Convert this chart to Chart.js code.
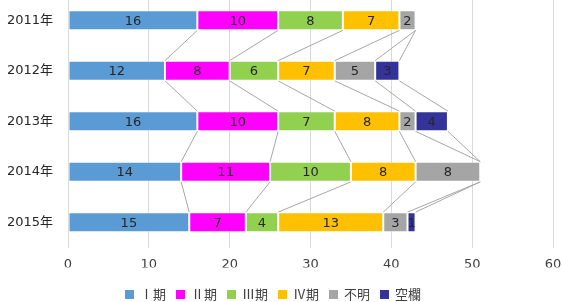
<!DOCTYPE html>
<html>
<head>
<meta charset="utf-8">
<script src="https://cdn.jsdelivr.net/npm/chart.js@4/dist/chart.umd.min.js"></script>
<style>
  html, body { margin: 0; padding: 0; background: #fff; overflow: hidden; }
  #wrap { position: relative; width: 562px; height: 302px; overflow: hidden; }
  #chart { position: absolute; left: 0; top: -5px; }
</style>
</head>
<body>
<div id="wrap"><canvas id="chart" width="562" height="307"></canvas></div>
<script>
const years = ['2011年', '2012年', '2013年', '2014年', '2015年'];
const stage1 = [16, 12, 16, 14, 15];
const stage2 = [10, 8, 10, 11, 7];
const stage3 = [8, 6, 7, 10, 4];
const stage4 = [7, 7, 8, 8, 13];
const unknown = [2, 5, 2, 8, 3];
const blank = [0, 3, 4, 0, 1];
const xTicks = [0, 10, 20, 30, 40, 50, 60];

const fontFamily = '"DejaVu Sans", "Noto Sans CJK JP", sans-serif';
const legendFont = '13px "Noto Sans CJK JP", sans-serif';

// gray connector lines between bars, like Excel series lines
const seriesLines = {
    id: 'seriesLines',
    beforeDatasetsDraw(chart) {
        const ctx = chart.ctx;
        ctx.save();
        ctx.strokeStyle = '#a6a6a6';
        ctx.lineWidth = 1;
        chart.data.datasets.forEach((ds, i) => {
            const bars = chart.getDatasetMeta(i).data;
            for (let j = 0; j < bars.length - 1; j++) {
                const a = bars[j], b = bars[j + 1];
                ctx.beginPath();
                ctx.moveTo(a.x, a.y + a.height / 2);
                ctx.lineTo(b.x, b.y - b.height / 2);
                ctx.stroke();
            }
        });
        ctx.restore();
    }
};

// value labels in the middle of each segment
const valueLabels = {
    id: 'valueLabels',
    afterDatasetsDraw(chart) {
        const ctx = chart.ctx;
        ctx.save();
        ctx.font = '13px ' + fontFamily;
        ctx.fillStyle = '#262626';
        ctx.textAlign = 'center';
        ctx.textBaseline = 'middle';
        chart.data.datasets.forEach((ds, i) => {
            chart.getDatasetMeta(i).data.forEach((bar, j) => {
                const v = ds.data[j];
                if (!v) return;
                ctx.fillText(v, (bar.x + bar.base) / 2, bar.y + 1);
            });
        });
        ctx.restore();
    }
};

// legend drawn by hand so it sits where Excel put it
const bottomLegend = {
    id: 'bottomLegend',
    afterDraw(chart) {
        const ctx = chart.ctx;
        ctx.save();
        ctx.font = legendFont;
        ctx.textBaseline = 'middle';
        let x = 125;
        const y = 299.5;
        chart.data.datasets.forEach(ds => {
            ctx.fillStyle = ds.backgroundColor;
            ctx.fillRect(x, y - 4.5, 9, 9);
            x += 9 + 6;
            ctx.fillStyle = '#404040';
            ctx.fillText(ds.label, x, y);
            x += ctx.measureText(ds.label).width + 10;
        });
        ctx.restore();
    }
};

const makeSet = (label, data, color) => ({
    label: label,
    data: data,
    backgroundColor: color,
    borderColor: 'rgba(255,255,255,0.5)',
    borderWidth: 1,
    borderSkipped: false,
    barPercentage: 0.4,
    categoryPercentage: 1.0
});

const noPad = scale => {
    scale.paddingLeft = 0;
    scale.paddingRight = 0;
    scale.paddingTop = 0;
    scale.paddingBottom = 0;
};

new Chart(document.getElementById('chart').getContext('2d'), {
    type: 'bar',
    data: {
        labels: years,
        datasets: [
            makeSet('Ⅰ期', stage1, '#5b9bd5'),
            makeSet('Ⅱ期', stage2, '#ff00ff'),
            makeSet('Ⅲ期', stage3, '#92d050'),
            makeSet('Ⅳ期', stage4, '#ffc000'),
            makeSet('不明', unknown, '#a5a5a5'),
            makeSet('空欄', blank, '#333399')
        ]
    },
    options: {
        indexAxis: 'y',
        responsive: false,
        animation: false,
        layout: { padding: { left: 0, right: 9, top: 0, bottom: 34.5 } },
        scales: {
            x: {
                stacked: true,
                min: 0,
                max: 60,
                afterBuildTicks: scale => { scale.ticks = xTicks.map(v => ({ value: v })); },
                grid: { color: '#d9d9d9', drawTicks: false },
                border: { display: false },
                ticks: { color: '#404040', font: { size: 13, family: fontFamily }, padding: 9 },
                afterFit: scale => { scale.height = 20; noPad(scale); }
            },
            y: {
                stacked: true,
                grid: { display: false, drawTicks: false },
                border: { display: true, color: '#d9d9d9' },
                ticks: { color: '#262626', font: { size: 13, family: fontFamily }, padding: 15 },
                afterFit: scale => { scale.width = 68; noPad(scale); }
            }
        },
        plugins: {
            legend: { display: false },
            tooltip: { enabled: false }
        }
    },
    plugins: [seriesLines, valueLabels, bottomLegend]
});
</script>
</body>
</html>
